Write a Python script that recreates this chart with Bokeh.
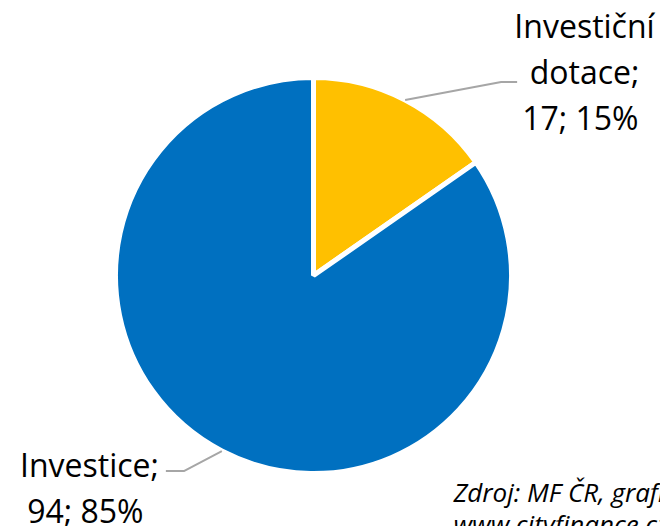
import math
from bokeh.plotting import figure
from bokeh.models import Range1d, ColumnDataSource
from bokeh.core.properties import value
from bokeh.embed import file_html
from bokeh.resources import INLINE

# ---- data ----
categories = ["Investiční dotace", "Investice"]
label_lines = [["Investiční", "dotace;"], ["Investice;"]]
values = [17, 94]
colors = ["#FFC000", "#0070C0"]
source_lines = ["Zdroj: MF ČR, grafika:", "www.cityfinance.cz"]

# ---- layout (pixel space: x right, y up = H - ref_y) ----
W, H = 660, 526
cx, cy, R = 313, H - 275, 198

p = figure(width=W, height=H, output_backend="svg", toolbar_location=None,
           x_range=Range1d(0, W), y_range=Range1d(0, H),
           min_border=0, outline_line_color=None)
p.axis.visible = False
p.grid.visible = False
p.background_fill_color = "white"
p.border_fill_color = "white"

total = sum(values)
a = math.pi / 2  # start at 12 o'clock, go clockwise
starts, ends, mids = [], [], []
for v in values:
    sweep = 2 * math.pi * v / total
    e = a - sweep
    starts.append(e)
    ends.append(a)
    mids.append((a + e) / 2)
    a = e

src = ColumnDataSource(dict(start=starts, end=ends, color=colors))
p.wedge(x=cx, y=cy, radius=R, start_angle="start", end_angle="end",
        color="color", line_color="white", line_width=5, source=src)

# leader lines
lead_color = "#A6A6A6"
m = mids[0]
x0, y0 = cx + R * math.cos(m), cy + R * math.sin(m)
p.line([x0, x0 + 96, x0 + 112], [y0, y0 + 18, y0 + 18], line_color=lead_color, line_width=2)
m = mids[1]
x1, y1 = cx + R * math.cos(m), cy + R * math.sin(m)
p.line([x1, x1 - 38, x1 - 56], [y1, y1 - 20, y1 - 20], line_color=lead_color, line_width=2)

pcts = [round(100 * v / total) for v in values]
label_pos = [(584, [25, 71, 117]), (89, [464, 510])]
lx, ly, lt = [], [], []
for i in range(len(values)):
    lines = label_lines[i] + [f"{values[i]};  {pcts[i]}%"]
    x, ys = label_pos[i]
    for t, yy in zip(lines, ys):
        lx.append(x)
        ly.append(H - yy)
        lt.append(t)
p.text(x=lx, y=ly, text=lt,
       text_font=value("Open Sans"), text_font_size="32px", text_color="#000000",
       text_align="center", text_baseline="middle")

p.text(x=[453, 453], y=[H - 491, H - 523], text=source_lines,
       text_font=value("Open Sans"), text_font_size="26px", text_font_style="italic",
       text_color="#000000", text_align="left", text_baseline="middle")

open("out.html", "w").write(file_html(p, INLINE))
